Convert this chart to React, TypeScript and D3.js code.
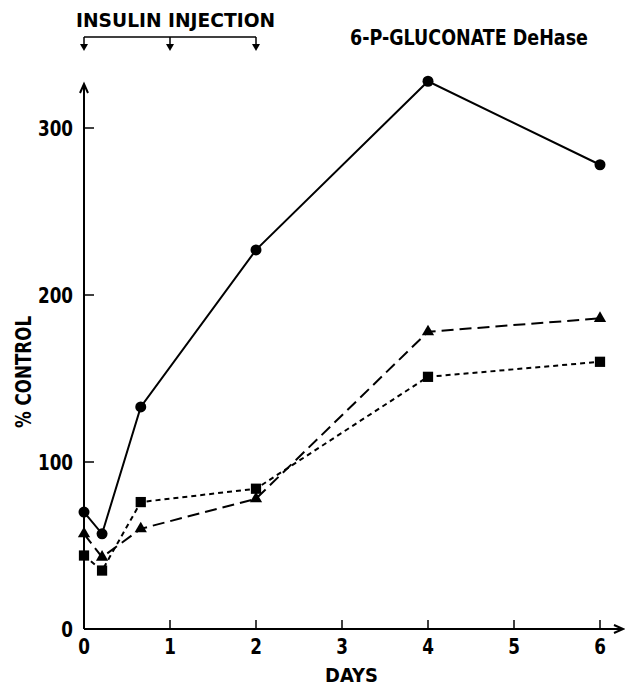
import React, { useLayoutEffect, useRef, useState } from "react";
import * as d3 from "d3";

const days = [0, 0.21, 0.66, 2, 4, 6];
const circleVals = [70, 57, 133, 227, 328, 278];
const triangleVals = [57, 43, 60, 78, 178, 186];
const squareVals = [44, 35, 76, 84, 151, 160];
const xTicks = [0, 1, 2, 3, 4, 5, 6];
const yTicks = [0, 100, 200, 300];
const injectionDays = [0, 1, 2];

const FONT = "'DejaVu Sans', sans-serif";

function NT({ x, y, size, anchor = "start", sx = 0.8, children }: any) {
  return (
    <text
      transform={`translate(${x},${y}) scale(${sx},1)`}
      textAnchor={anchor}
      fontFamily={FONT}
      fontWeight="bold"
      fontSize={size}
    >
      {children}
    </text>
  );
}

function FitText({ x, y, width, size, rotate = 0, children }: any) {
  const ref = useRef<SVGTextElement>(null);
  const [sx, setSx] = useState(0.8);
  useLayoutEffect(() => {
    if (ref.current) {
      const len = ref.current.getComputedTextLength();
      if (len > 0) setSx(width / len);
    }
  }, [width, children]);
  return (
    <text
      ref={ref}
      transform={`translate(${x},${y}) rotate(${rotate}) scale(${sx},1)`}
      fontFamily={FONT}
      fontWeight="bold"
      fontSize={size}
    >
      {children}
    </text>
  );
}

export default function App() {
  const W = 625, H = 685;
  const x = d3.scaleLinear().domain([0, 6]).range([84, 600]);
  const y = d3.scaleLinear().domain([0, 300]).range([629, 128]);
  const line = d3.line<[number, number]>().x(d => x(d[0])).y(d => y(d[1]));
  const pts = (vals: number[]) => days.map((d, i) => [d, vals[i]] as [number, number]);
  const sym = (t: d3.SymbolType, size: number) => d3.symbol().type(t).size(size)() as string;
  const x0 = x(0), y0 = y(0);
  const bracketY = 37;
  return (
    <svg width={W} height={H} style={{ position: "absolute", left: 0, top: 0, background: "#fff" }}>
      <rect width={W} height={H} fill="#fff" />
      {/* axes */}
      <line x1={x0} y1={y0} x2={x0} y2={85} stroke="#000" strokeWidth={2} />
      <path d={`M${x0 - 4},${93} L${x0},${84} L${x0 + 4},${93}`} fill="none" stroke="#000" strokeWidth={2} />
      <line x1={x0} y1={y0} x2={622} y2={y0} stroke="#000" strokeWidth={2} />
      <path d={`M${614},${y0 - 4} L${623},${y0} L${614},${y0 + 4}`} fill="none" stroke="#000" strokeWidth={2} />
      {yTicks.map(t => (
        <g key={"y" + t}>
          {t > 0 && <line x1={x0} x2={x0 + 10} y1={y(t)} y2={y(t)} stroke="#000" strokeWidth={1.5} />}
          <NT x={73} y={y(t) + 8} size={21} anchor="end" sx={0.8}>{t}</NT>
        </g>
      ))}
      {xTicks.map(t => (
        <g key={"x" + t}>
          {t > 0 && <line x1={x(t)} x2={x(t)} y1={y0} y2={y0 - 9} stroke="#000" strokeWidth={1.5} />}
          <NT x={x(t)} y={654} size={21} anchor="middle" sx={0.8}>{t}</NT>
        </g>
      ))}
      <FitText x={325} y={682} width={53} size={20}>DAYS</FitText>
      <FitText x={31} y={428} width={112} size={20.5} rotate={-90}>% CONTROL</FitText>
      {/* titles */}
      <FitText x={76} y={27} width={199} size={19.5}>INSULIN INJECTION</FitText>
      <FitText x={350} y={45} width={238} size={20.5}>6-P-GLUCONATE DeHase</FitText>
      {/* injection bracket */}
      <line x1={x(0)} x2={x(2)} y1={bracketY} y2={bracketY} stroke="#000" strokeWidth={1.5} />
      {injectionDays.map(d => (
        <g key={"inj" + d}>
          <line x1={x(d)} x2={x(d)} y1={bracketY} y2={46} stroke="#000" strokeWidth={1.5} />
          <path d={`M${x(d) - 4},${44} L${x(d) + 4},${44} L${x(d)},${51} Z`} fill="#000" />
        </g>
      ))}
      {/* series */}
      <path d={line(pts(circleVals)) as string} fill="none" stroke="#000" strokeWidth={2} />
      <path d={line(pts(triangleVals)) as string} fill="none" stroke="#000" strokeWidth={2} strokeDasharray="12,6" />
      <path d={line(pts(squareVals)) as string} fill="none" stroke="#000" strokeWidth={2} strokeDasharray="5,4" />
      {pts(circleVals).map((p, i) => (
        <circle key={"c" + i} cx={x(p[0])} cy={y(p[1])} r={5.5} fill="#000" />
      ))}
      {pts(triangleVals).map((p, i) => (
        <path key={"t" + i} transform={`translate(${x(p[0])},${y(p[1])})`} d={sym(d3.symbolTriangle, 65)} fill="#000" />
      ))}
      {pts(squareVals).map((p, i) => (
        <path key={"s" + i} transform={`translate(${x(p[0])},${y(p[1])})`} d={sym(d3.symbolSquare, 105)} fill="#000" />
      ))}
    </svg>
  );
}
